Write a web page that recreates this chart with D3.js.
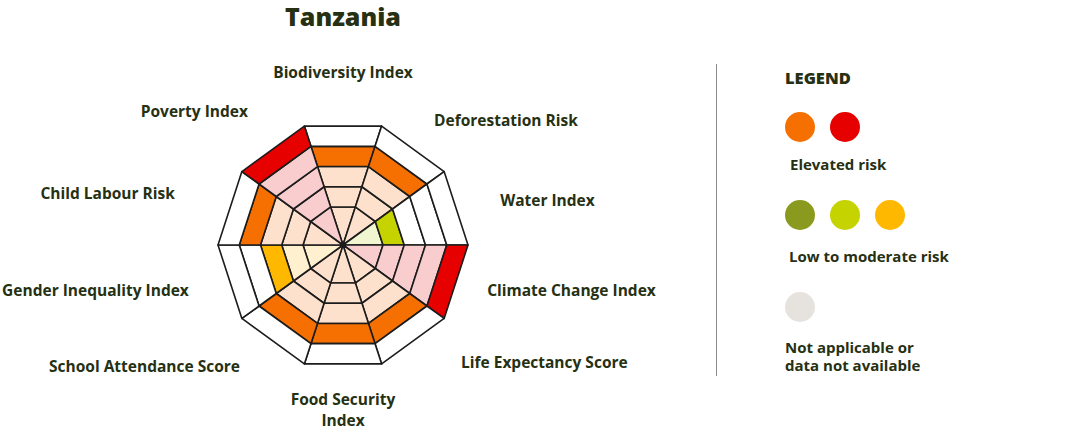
<!DOCTYPE html>
<html>
<head>
<meta charset="utf-8">
<script src="https://cdn.jsdelivr.net/npm/d3@7"></script>
<style>
  html, body { margin: 0; padding: 0; background: #ffffff; }
  svg { display: block; }
  text { font-family: "Open Sans", Lato, sans-serif; font-weight: 700; fill: #263012; }
</style>
</head>
<body>
<svg id="chart" width="1081" height="438"></svg>
<script>
// ---------- data ----------
const title = "Tanzania";
const categories = [
  "Biodiversity Index", "Deforestation Risk", "Water Index", "Climate Change Index",
  "Life Expectancy Score", "Food Security\nIndex", "School Attendance Score",
  "Gender Inequality Index", "Child Labour Risk", "Poverty Index"
];
// risk level 1..5 (rings filled)
const values = [4, 4, 2, 5, 4, 4, 4, 3, 4, 5];
const levels = [1, 2, 3, 4, 5];
const legendTitle = "LEGEND";
const legendGroups = ["Elevated risk", "Low to moderate risk", "Not applicable or\ndata not available"];
const legendLevels = [[4, 5], [1, 2, 3], [0]];

// ---------- styles / layout ----------
const strongColor = d3.scaleOrdinal().domain([0, 1, 2, 3, 4, 5])
  .range(["#e6e3de", "#8a9a1e", "#c5d300", "#ffb800", "#f57000", "#e60000"]);
const tintColor = d3.scaleOrdinal().domain([1, 2, 3, 4, 5])
  .range(["#e8ebcf", "#f1f5d0", "#fff1cf", "#fde1cc", "#f9cdce"]);
const labelNudge = [[0, -12], [-3, 5], [5, 5], [-8, -4], [24, -12], [0, 5], [-9, -8], [-2, -4], [-16, -2], [-1, -4]];

const svg = d3.select("#chart");
const cx = 343, cy = 245;
const n = categories.length;
const angle = d3.scaleLinear().domain([0, n]).range([0, 2 * Math.PI]);
const half = Math.PI / n;
const r = d3.scaleLinear().domain([0, 1, 5]).range([0, 40, 125]);
const pt = (a, rad) => [cx + rad * Math.sin(a), cy - rad * Math.cos(a)];

// title
svg.append("text").attr("x", cx).attr("y", 16).attr("text-anchor", "middle")
  .attr("dominant-baseline", "central").style("font-size", "25px").style("font-weight", 800)
  .text(title);

// bands
const cells = [];
categories.forEach((c, i) => levels.forEach(k => cells.push({ i, k, v: values[i] })));
const g = svg.append("g");
g.selectAll("path.cell").data(cells).join("path")
  .attr("class", "cell")
  .attr("d", d => {
    const a = angle(d.i);
    const p = [pt(a - half, r(d.k - 1)), pt(a - half, r(d.k)), pt(a + half, r(d.k)), pt(a + half, r(d.k - 1))];
    return "M" + p.map(q => q.join(",")).join("L") + "Z";
  })
  .attr("fill", d => d.k > d.v ? "#ffffff" : (d.k === d.v ? strongColor(d.v) : tintColor(d.v)))
  .attr("stroke", "#1c1c1c").attr("stroke-width", 1.6).attr("stroke-linejoin", "round");

g.append("circle").attr("cx", cx).attr("cy", cy).attr("r", 3).attr("fill", "#1c1c1c");

// labels
const R = 160;
const lineH = 21;
const labelPos = categories.map((d, i) => {
  const p = pt(angle(i), R);
  const lines = d.split("\n").length;
  return [p[0] + labelNudge[i][0], p[1] + labelNudge[i][1] - (lines - 1) * lineH / 2];
});
const lab = svg.append("g").selectAll("text").data(categories).join("text")
  .style("font-size", "15.5px")
  .attr("x", (d, i) => labelPos[i][0])
  .attr("y", (d, i) => labelPos[i][1])
  .attr("text-anchor", (d, i) => {
    const s = Math.sin(angle(i));
    return s > 0.1 ? "start" : (s < -0.1 ? "end" : "middle");
  });
lab.each(function (d, i) {
  d3.select(this).selectAll("tspan").data(d.split("\n")).join("tspan")
    .attr("x", labelPos[i][0]).attr("dy", (t, j) => j === 0 ? "0.35em" : lineH + "px").text(t => t);
});

// legend separator
svg.append("line").attr("x1", 716.5).attr("x2", 716.5).attr("y1", 64).attr("y2", 376)
  .attr("stroke", "#8c8c8c").attr("stroke-width", 1);

const lx = 785;
svg.append("text").attr("x", lx).attr("y", 77).attr("dominant-baseline", "central")
  .style("font-size", "16.5px").style("font-weight", 800).text(legendTitle);

const groupY = [127, 215, 307];
const labelY = [165, 257, 348];
const labelX = [790, 789, 785];
legendGroups.forEach((txt, gi) => {
  svg.append("g").selectAll("circle").data(legendLevels[gi]).join("circle")
    .attr("cx", (d, j) => 800 + j * 45).attr("cy", groupY[gi]).attr("r", 15)
    .attr("fill", d => strongColor(d));
  const t = svg.append("text").attr("x", labelX[gi]).attr("y", labelY[gi]).style("font-size", "15px");
  t.selectAll("tspan").data(txt.split("\n")).join("tspan")
    .attr("x", labelX[gi]).attr("dy", (d, j) => j === 0 ? "0.35em" : "18px").text(d => d);
});
</script>
</body>
</html>
